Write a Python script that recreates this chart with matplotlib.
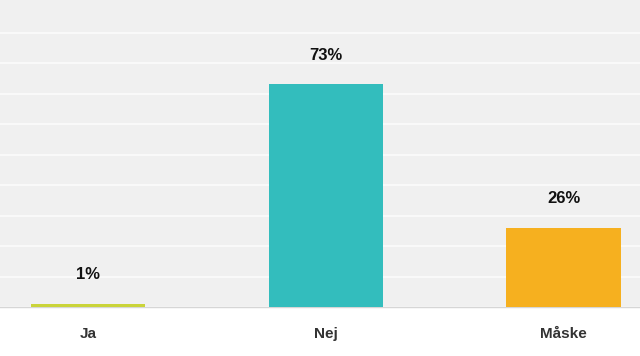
import matplotlib
matplotlib.use("Agg")
import matplotlib.pyplot as plt

categories = ["Ja", "Nej", "Måske"]
values = [1, 73, 26]
labels = ["1%", "73%", "26%"]
colors = ["#cad43a", "#33bdbd", "#f6b01f"]

plt.rcParams['font.family'] = ['Liberation Sans', 'DejaVu Sans']

fig = plt.figure(figsize=(6.4, 3.56), dpi=100)
fig.patch.set_facecolor("white")
ax = fig.add_axes([0, 49/356, 1, 1 - 49/356])
ax.set_facecolor("#f0f0f0")

x = list(range(len(categories)))
ax.bar(x, values, width=0.48, color=colors, zorder=3)

ax.set_xlim(-0.3726, 2.3221)
ax.set_ylim(0, 100.66)
ax.set_yticks(range(0, 100, 10))
ax.yaxis.grid(True, color="#fafafa", linewidth=1.3, zorder=0)
ax.set_axisbelow(True)
ax.tick_params(left=False, bottom=False, labelleft=False, labelbottom=False)
for s in ["top", "left", "right"]:
    ax.spines[s].set_visible(False)
ax.spines["bottom"].set_color("#d6d6d6")
ax.spines["bottom"].set_linewidth(1.0)

for xi, v, lab in zip(x, values, labels):
    ax.annotate(lab, xy=(xi, v), xytext=(0, 21), textcoords="offset points",
                ha="center", va="center", fontsize=12, fontweight="bold",
                color="#111111", zorder=4)
    ax.annotate(categories[xi], xy=(xi, 0), xycoords=("data", "axes fraction"),
                xytext=(0, -19.5), textcoords="offset points",
                ha="center", va="center", fontsize=11, fontweight="bold",
                color="#333333", annotation_clip=False)

fig.savefig("out.png", dpi=100, facecolor=fig.get_facecolor())
